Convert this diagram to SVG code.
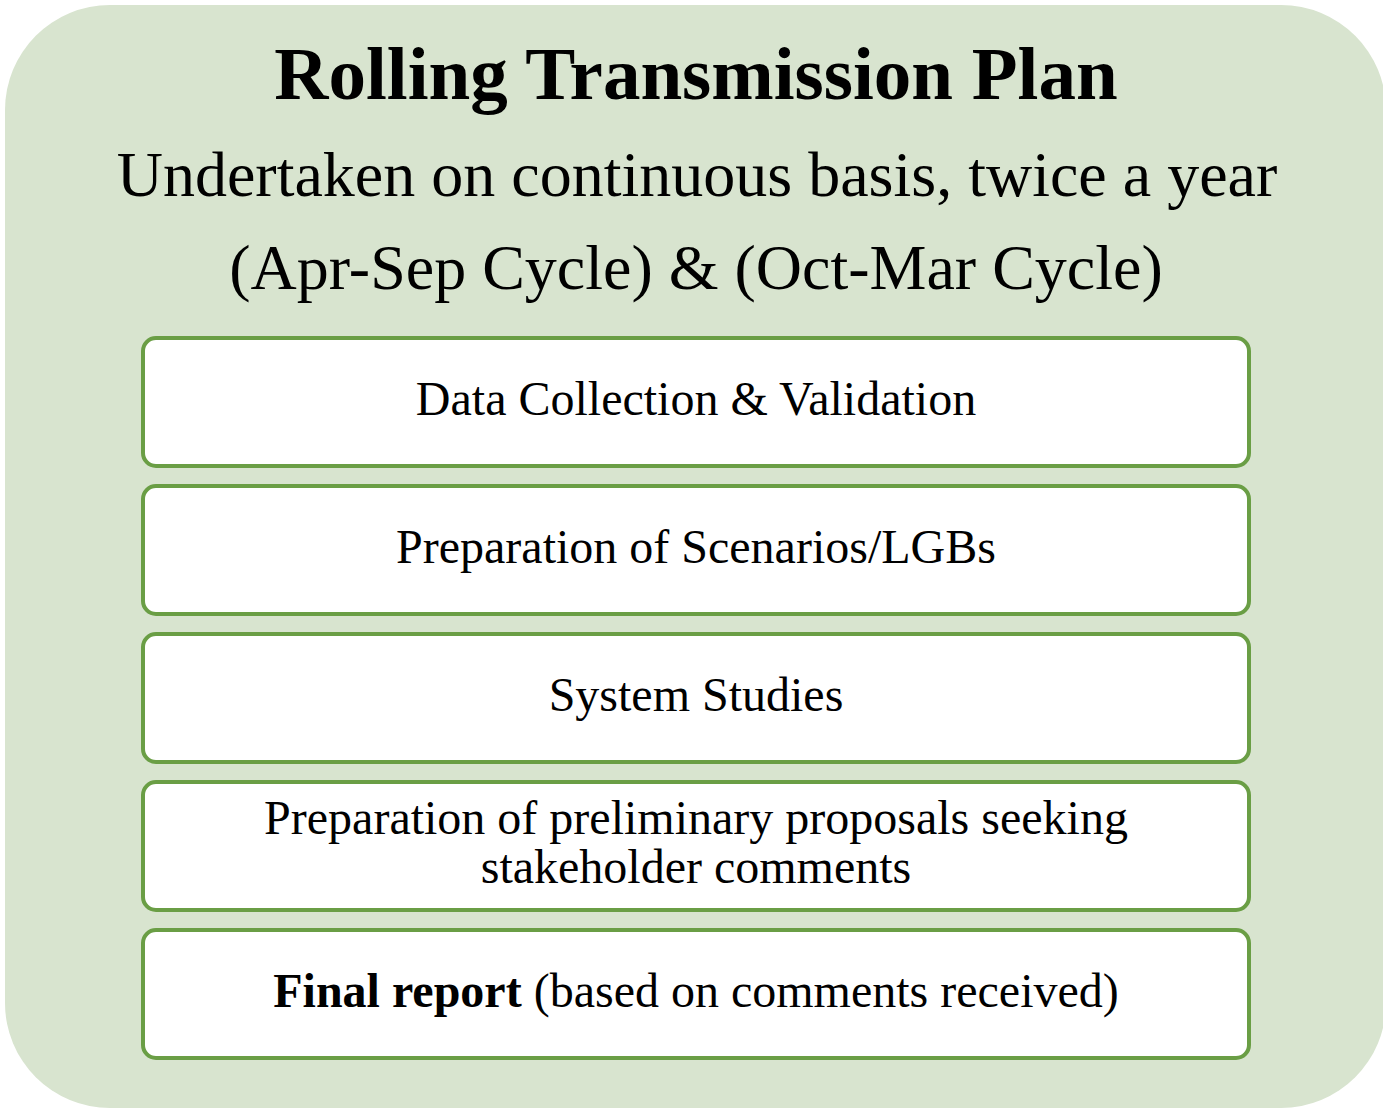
<svg xmlns="http://www.w3.org/2000/svg" width="1383" height="1110" viewBox="0 0 1383 1110">
<style>
.bg{fill:#D8E4CF}
.box{fill:#FFFFFF;stroke:#6A9E45;stroke-width:4}
text{font-family:"Liberation Serif","Times New Roman",serif;fill:#000;text-anchor:middle}
.t{font-size:75px;font-weight:bold}
.s{font-size:64px}
.b{font-size:48px}
</style>
<rect width="1383" height="1110" fill="#FFFFFF"/>
<g id="panel">
<rect class="bg" x="5" y="5" width="1381" height="1103" rx="105" ry="105"/>
<text class="t" x="696" y="99">Rolling Transmission Plan</text>
<text class="s" x="697" y="196">Undertaken on continuous basis, twice a year</text>
<text class="s" x="696" y="289">(Apr-Sep Cycle) &amp; (Oct-Mar Cycle)</text>
</g>
<g id="step1">
<rect class="box" x="143" y="338" width="1106" height="128" rx="13"/>
<text class="b" x="696" y="415">Data Collection &amp; Validation</text>
</g>
<g id="step2">
<rect class="box" x="143" y="486" width="1106" height="128" rx="13"/>
<text class="b" x="696" y="563">Preparation of Scenarios/LGBs</text>
</g>
<g id="step3">
<rect class="box" x="143" y="634" width="1106" height="128" rx="13"/>
<text class="b" x="696" y="711">System Studies</text>
</g>
<g id="step4">
<rect class="box" x="143" y="782" width="1106" height="128" rx="13"/>
<text class="b" x="696" y="834">Preparation of preliminary proposals seeking</text>
<text class="b" x="696" y="883">stakeholder comments</text>
</g>
<g id="step5">
<rect class="box" x="143" y="930" width="1106" height="128" rx="13"/>
<text class="b" x="696" y="1007"><tspan font-weight="bold">Final report</tspan> (based on comments received)</text>
</g>
<g id="connectors"/>
</svg>
